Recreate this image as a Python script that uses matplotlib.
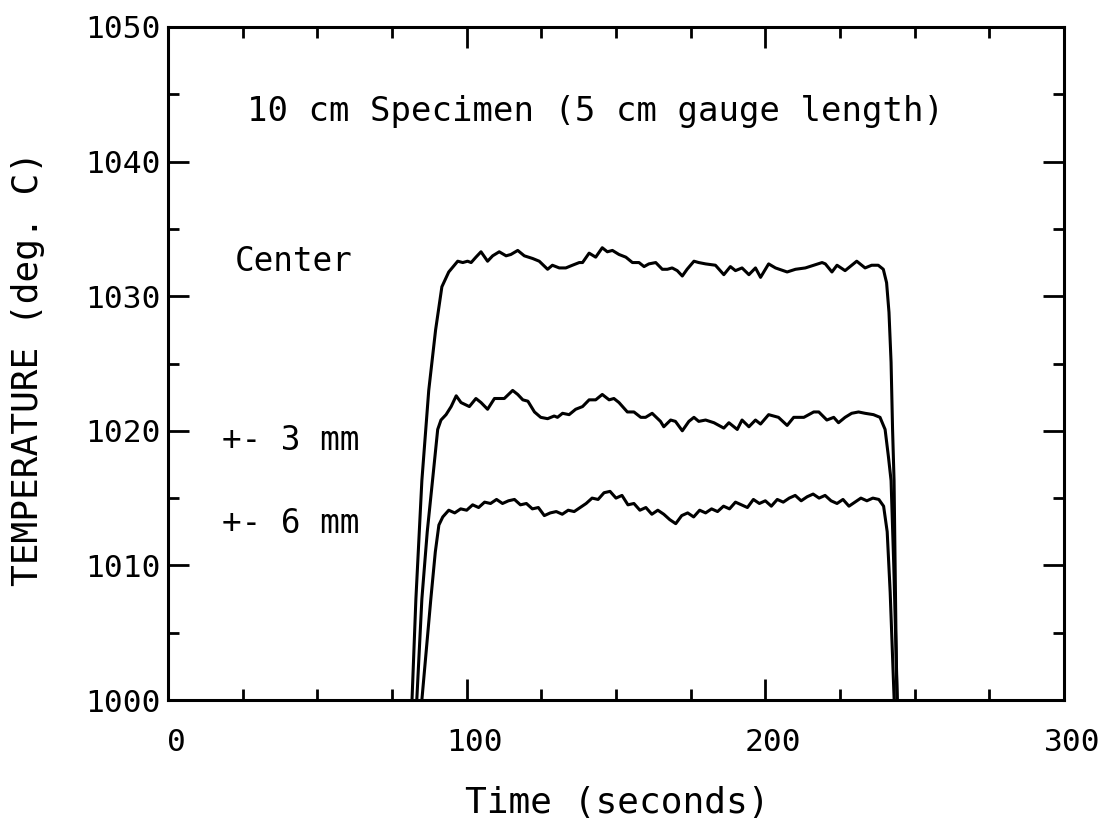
import matplotlib
matplotlib.use("Agg")
import matplotlib.pyplot as plt
from matplotlib.ticker import MultipleLocator
import matplotlib.transforms as mtransforms

# ---- data ----
center_t = [78.0, 81.7, 83.0, 85.0, 87.3, 89.6, 91.7, 94.0, 97.0, 98.7, 100.3, 101.5, 103.1, 104.8,
            107.0, 108.7, 110.9, 113.2, 114.8, 117.1, 119.3, 122.1, 124.3, 127.1, 128.7, 131.0,
            133.2, 135.4, 137.7, 138.8, 141.0, 143.2, 145.4, 147.1, 148.8, 151.0, 153.3, 155.5,
            157.7, 159.4, 161.0, 163.3, 165.5, 167.2, 168.8, 170.5, 172.2, 173.8, 176.1, 177.7,
            180.0, 183.3, 186.1, 188.3, 190.0, 192.2, 194.5, 196.7, 198.4, 201.1, 203.4, 207.3,
            210.1, 213.4, 216.2, 219.0, 220.1, 222.3, 224.0, 226.7, 230.6, 233.4, 235.6, 237.8,
            239.5, 240.6, 241.4, 242.1, 242.6, 243.1, 243.9, 245.0]
center_T = [990.0, 1000.0, 1007.5, 1016.3, 1023.0, 1027.5, 1030.7, 1031.8, 1032.6, 1032.5, 1032.6,
            1032.5, 1032.9, 1033.3, 1032.6, 1033.0, 1033.3, 1033.0, 1033.1, 1033.4, 1033.0, 1032.8,
            1032.6, 1032.0, 1032.3, 1032.1, 1032.1, 1032.3, 1032.5, 1032.5, 1033.2, 1032.9, 1033.6,
            1033.3, 1033.4, 1033.1, 1032.9, 1032.5, 1032.5, 1032.2, 1032.4, 1032.5, 1032.0, 1032.0,
            1032.1, 1031.9, 1031.5, 1032.0, 1032.6, 1032.5, 1032.4, 1032.3, 1031.6, 1032.2, 1031.9,
            1032.1, 1031.6, 1032.1, 1031.4, 1032.4, 1032.1, 1031.8, 1032.0, 1032.1, 1032.3, 1032.5,
            1032.4, 1031.8, 1032.3, 1031.9, 1032.6, 1032.1, 1032.3, 1032.3, 1032.0, 1031.0, 1028.8,
            1025.1, 1020.1, 1016.3, 1002.0, 990.0]

mm3_t = [80.0, 83.3, 85.0, 86.8, 88.7, 90.3, 91.4, 93.1, 94.8, 96.5, 98.1, 100.9, 103.1, 104.8, 107.0,
         109.3, 112.6, 115.4, 117.1, 118.8, 120.5, 122.7, 124.8, 127.1, 129.3, 130.4, 132.1, 134.3,
         136.5, 138.8, 141.0, 143.2, 145.4, 147.7, 149.3, 151.0, 153.8, 156.0, 158.3, 159.9, 162.1,
         164.9, 166.0, 168.3, 169.9, 172.2, 174.4, 176.1, 177.7, 180.0, 182.8, 186.1, 187.8, 190.6,
         192.2, 194.5, 196.7, 198.4, 201.1, 204.4, 207.3, 209.5, 212.9, 216.2, 217.9, 220.6, 222.9,
         224.5, 226.7, 228.9, 231.2, 233.4, 236.2, 238.4, 240.1, 241.2, 242.1, 243.0, 244.2, 245.2]
mm3_T = [990.0, 1000.0, 1007.5, 1012.5, 1016.6, 1020.1, 1020.8, 1021.2, 1021.8, 1022.6, 1022.1,
         1021.8, 1022.4, 1022.1, 1021.6, 1022.4, 1022.4, 1023.0, 1022.7, 1022.3, 1022.2, 1021.4,
         1021.0, 1020.9, 1021.1, 1021.0, 1021.3, 1021.2, 1021.6, 1021.8, 1022.3, 1022.3, 1022.7,
         1022.3, 1022.4, 1022.1, 1021.4, 1021.4, 1021.0, 1021.0, 1021.3, 1020.7, 1020.3, 1020.8,
         1020.7, 1020.0, 1020.7, 1021.0, 1020.7, 1020.8, 1020.6, 1020.2, 1020.6, 1020.1, 1020.8,
         1020.3, 1020.8, 1020.5, 1021.2, 1021.0, 1020.4, 1021.0, 1021.0, 1021.4, 1021.4, 1020.8,
         1021.0, 1020.6, 1021.0, 1021.3, 1021.4, 1021.3, 1021.2, 1021.0, 1020.1, 1018.1, 1016.3,
         1010.0, 1000.0, 990.0]

mm6_t = [82.0, 85.0, 88.0, 89.5, 90.7, 92.0, 94.0, 96.0, 98.0, 100.0, 102.0, 104.0, 106.0, 108.0,
         110.0, 112.0, 114.0, 116.0, 118.0, 120.0, 122.0, 124.0, 126.0, 128.0, 130.0, 132.0, 134.0,
         136.0, 138.0, 140.0, 142.0, 144.0, 146.0, 148.0, 150.0, 152.0, 154.0, 156.0, 158.0, 160.0,
         162.0, 164.0, 166.0, 168.0, 170.0, 172.0, 174.0, 176.0, 178.0, 180.0, 182.0, 184.0, 186.0,
         188.0, 190.0, 192.0, 194.0, 196.0, 198.0, 200.0, 202.0, 204.0, 206.0, 208.0, 210.0, 212.0,
         214.0, 216.0, 218.0, 220.0, 222.0, 224.0, 226.0, 228.0, 230.0, 232.0, 234.0, 236.0, 238.0,
         239.6, 240.8, 241.8, 242.8, 243.8, 245.5]
mm6_T = [990.0, 1000.0, 1007.5, 1011.0, 1013.0, 1013.6, 1014.1, 1013.9, 1014.2, 1014.1, 1014.5,
         1014.3, 1014.7, 1014.6, 1014.9, 1014.6, 1014.8, 1014.9, 1014.5, 1014.6, 1014.2, 1014.3,
         1013.7, 1013.9, 1014.0, 1013.8, 1014.1, 1014.0, 1014.3, 1014.6, 1015.0, 1014.9, 1015.4,
         1015.5, 1015.0, 1015.2, 1014.5, 1014.6, 1014.1, 1014.3, 1013.8, 1014.1, 1013.8, 1013.4,
         1013.1, 1013.7, 1013.9, 1013.6, 1014.1, 1013.9, 1014.2, 1014.0, 1014.4, 1014.2, 1014.7,
         1014.5, 1014.3, 1014.9, 1014.6, 1014.8, 1014.4, 1014.9, 1014.7, 1015.0, 1015.2, 1014.8,
         1015.1, 1015.3, 1015.0, 1015.2, 1014.8, 1014.6, 1014.9, 1014.4, 1014.7, 1015.0, 1014.8,
         1015.0, 1014.9, 1014.4, 1012.5, 1008.0, 1002.0, 996.0, 990.0]

x_ticks = [0, 100, 200, 300]
y_ticks = [1000, 1010, 1020, 1030, 1040, 1050]
FONT = "DejaVu Sans Mono"

fig = plt.figure(figsize=(11.06, 8.24), dpi=100)
ax = fig.add_axes([168 / 1106, 1 - 700 / 824, (1064 - 168) / 1106, (700 - 27) / 824])

for t, T in [(center_t, center_T), (mm3_t, mm3_T), (mm6_t, mm6_T)]:
    ax.plot(t, T, color="black", lw=2.2, solid_joinstyle="round")

ax.set_xlim(0, 300)
ax.set_ylim(1000, 1050)
ax.set_xticks(x_ticks)
ax.set_yticks(y_ticks)
ax.xaxis.set_minor_locator(MultipleLocator(25))
ax.yaxis.set_minor_locator(MultipleLocator(5))
ax.tick_params(which="both", direction="in", top=True, right=True, width=2.0,
               labelsize=22.5, colors="black")
ax.tick_params(which="major", length=15)
ax.tick_params(which="minor", length=8)
ax.tick_params(axis="x", which="major", pad=20)
ax.tick_params(axis="y", which="major", pad=5)
for sp in ax.spines.values():
    sp.set_linewidth(2.2)

offset = mtransforms.ScaledTranslation(8 / 100, 0, fig.dpi_scale_trans)
for lab in ax.get_xticklabels():
    lab.set_fontfamily(FONT)
    lab.set_transform(lab.get_transform() + offset)
for lab in ax.get_yticklabels():
    lab.set_fontfamily(FONT)

ax.text(26.5, 1043.7, "10 cm Specimen (5 cm gauge length)", fontsize=24.5,
        family=FONT, va="center", ha="left")
ax.text(22.4, 1032.6, "Center", fontsize=23.5, family=FONT, va="center", ha="left")
ax.text(18.0, 1019.3, "+- 3 mm", fontsize=23.5, family=FONT, va="center", ha="left")
ax.text(18.0, 1013.1, "+- 6 mm", fontsize=23.5, family=FONT, va="center", ha="left")

fig.text(617 / 1106, 1 - 803 / 824, "Time (seconds)", fontsize=26, family=FONT,
         ha="center", va="center")
fig.text(28 / 1106, 1 - 368 / 824, "TEMPERATURE (deg. C)", fontsize=26, family=FONT,
         ha="center", va="center", rotation=90)

fig.savefig("out.png", dpi=100)
